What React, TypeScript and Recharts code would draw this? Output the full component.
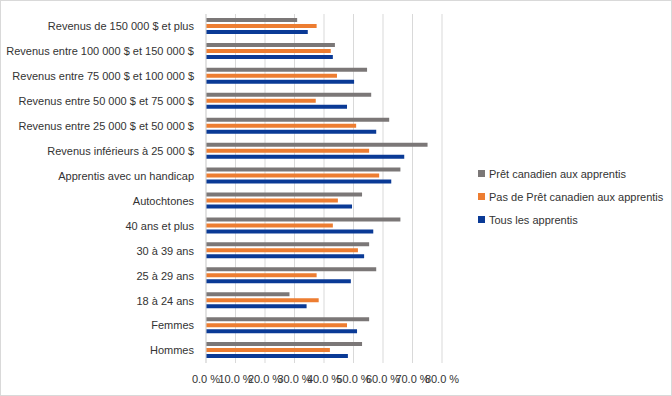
import React from "react";
import { BarChart, Bar, XAxis, YAxis, CartesianGrid, Legend } from "recharts";

const categories = [
  "Revenus de 150 000 $ et plus",
  "Revenus entre 100 000 $ et 150 000 $",
  "Revenus entre 75 000 $ et 100 000 $",
  "Revenus entre 50 000 $ et 75 000 $",
  "Revenus entre 25 000 $ et 50 000 $",
  "Revenus inférieurs à 25 000 $",
  "Apprentis avec un handicap",
  "Autochtones",
  "40 ans et plus",
  "30 à 39 ans",
  "25 à 29 ans",
  "18 à 24 ans",
  "Femmes",
  "Hommes",
];

const pretCanadien = [30.9, 43.7, 54.6, 56.0, 62.1, 75.1, 65.9, 52.9, 65.9, 55.3, 57.7, 28.3, 55.3, 52.9];
const pasDePret = [37.5, 42.3, 44.4, 37.2, 50.9, 55.3, 58.7, 44.7, 43.0, 51.5, 37.5, 38.2, 47.8, 42.0];
const tousApprentis = [34.5, 43.0, 50.2, 47.8, 57.7, 67.2, 62.8, 49.5, 56.7, 53.6, 49.1, 34.1, 51.2, 48.1];

const xTicks = [0, 10, 20, 30, 40, 50, 60, 70, 80];

const seriesNames = [
  "Prêt canadien aux apprentis",
  "Pas de Prêt canadien aux apprentis",
  "Tous les apprentis",
];
const seriesColors = ["#7b7777", "#ed7d31", "#0a3a96"];

const data = categories.map((name, i) => ({
  name,
  pret: pretCanadien[i],
  pas: pasDePret[i],
  tous: tousApprentis[i],
}));

const FONT = "'Liberation Sans', Arial, sans-serif";

const LegendContent = () => (
  <div style={{ fontFamily: FONT, fontSize: 11, color: "#333" }}>
    {seriesNames.map((n, i) => (
      <div key={n} style={{ display: "flex", alignItems: "center", height: 23 }}>
        <span
          style={{
            display: "inline-block",
            width: 7,
            height: 7,
            background: seriesColors[i],
            marginRight: 4,
          }}
        />
        <span>{n}</span>
      </div>
    ))}
  </div>
);

const YTick = (props: any) => {
  const { x, y, payload } = props;
  return (
    <text
      x={x}
      y={y}
      dy="0.35em"
      textAnchor="end"
      fontFamily={FONT}
      fontSize={11}
      fill="#333"
    >
      {payload.value}
    </text>
  );
};

export default function App() {
  return (
    <div
      style={{
        position: "absolute",
        left: 0,
        top: 0,
        width: 670,
        height: 394,
        border: "1px solid #d9d9d9",
        background: "#fff",
      }}
    >
      <BarChart
        width={670}
        height={394}
        data={data}
        layout="vertical"
        margin={{ top: 13, right: 229, bottom: 2, left: 0 }}
        barSize={4}
        barGap={2}
      >
        <CartesianGrid horizontal={false} stroke="#d9d9d9" />
        <XAxis
          type="number"
          domain={[0, 80]}
          ticks={xTicks}
          tickFormatter={(v: number) => v.toFixed(1) + " %"}
          axisLine={false}
          tickLine={false}
          tickSize={6}
          tickMargin={6}
          interval={0}
          tick={{ fontFamily: FONT, fontSize: 11, fill: "#333" }}
          height={30}
        />
        <YAxis
          type="category"
          dataKey="name"
          width={205}
          axisLine={{ stroke: "#d9d9d9" }}
          tickLine={false}
          tickSize={6}
          tickMargin={6}
          interval={0}
          tick={<YTick />}
        />
        <Bar dataKey="pret" name={seriesNames[0]} fill={seriesColors[0]} isAnimationActive={false} />
        <Bar dataKey="pas" name={seriesNames[1]} fill={seriesColors[1]} isAnimationActive={false} />
        <Bar dataKey="tous" name={seriesNames[2]} fill={seriesColors[2]} isAnimationActive={false} />
        <Legend
          layout="vertical"
          align="center"
          verticalAlign="middle"
          content={<LegendContent />}
          wrapperStyle={{ left: 477, top: 161, width: 190 }}
        />
      </BarChart>
    </div>
  );
}
